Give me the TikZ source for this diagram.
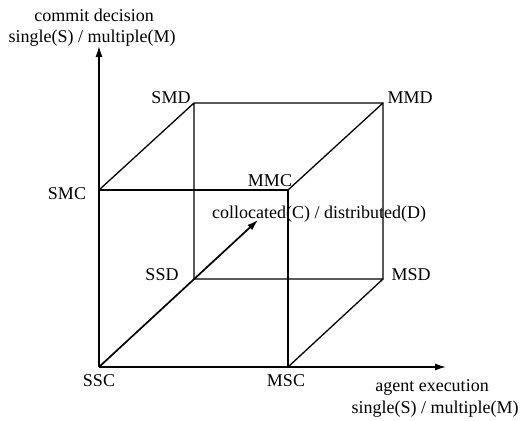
\documentclass[tikz,border=0pt]{standalone}
\usepackage{fontspec}
\setmainfont{Liberation Serif}
\usetikzlibrary{arrows.meta}
\begin{document}
\begin{tikzpicture}[x=1pt,y=-1pt,
  lbl/.style={font=\fontsize{18}{21}\selectfont,inner sep=0pt},
  edge/.style={line width=1.3pt},
  axis/.style={line width=1.4pt,-{Latex[length=11pt,width=7pt]}}]
\useasboundingbox (0,0) rectangle (521,420);
% corners
\coordinate (ssc) at (99,367);
\coordinate (msc) at (288,367);
\coordinate (smc) at (99,190);
\coordinate (mmc) at (288,190);
\coordinate (ssd) at (194,279);
\coordinate (msd) at (383,279);
\coordinate (smd) at (194,103);
\coordinate (mmd) at (383,103);
\coordinate (ytip) at (99,46);
\coordinate (xtip) at (446,367);
\coordinate (dtip) at (258,220);
% cube
\draw[edge] (smc) -- (mmc) -- (msc);
\draw[edge] (smc) -- (smd) -- (mmd) -- (msd) -- (ssd) -- (smd);
\draw[edge] (mmc) -- (mmd);
\draw[edge] (msc) -- (msd);
% axes
\draw[axis] (ssc) -- (ytip);
\draw[axis] (ssc) -- (xtip);
\draw[axis,line width=1.7pt] (ssc) -- (dtip);
% labels
\node[lbl] (tY1) at (94,15) {commit decision};
\node[lbl] (tY2) at (92,38) {single(S) / multiple(M)};
\node[lbl] (tX1) at (432,387) {agent execution};
\node[lbl] (tX2) at (435,409) {single(S) / multiple(M)};
\node[lbl] (tD) at (319,214) {collocated(C) / distributed(D)};
\node[lbl] (lSMD) at (171,98) {SMD};
\node[lbl] (lMMD) at (410,98) {MMD};
\node[lbl] (lSMC) at (67,194) {SMC};
\node[lbl] (lMMC) at (270,181) {MMC};
\node[lbl] (lSSD) at (162,275) {SSD};
\node[lbl] (lMSD) at (411,275) {MSD};
\node[lbl] (lSSC) at (99,381) {SSC};
\node[lbl] (lMSC) at (286,381) {MSC};
\end{tikzpicture}
\end{document}
